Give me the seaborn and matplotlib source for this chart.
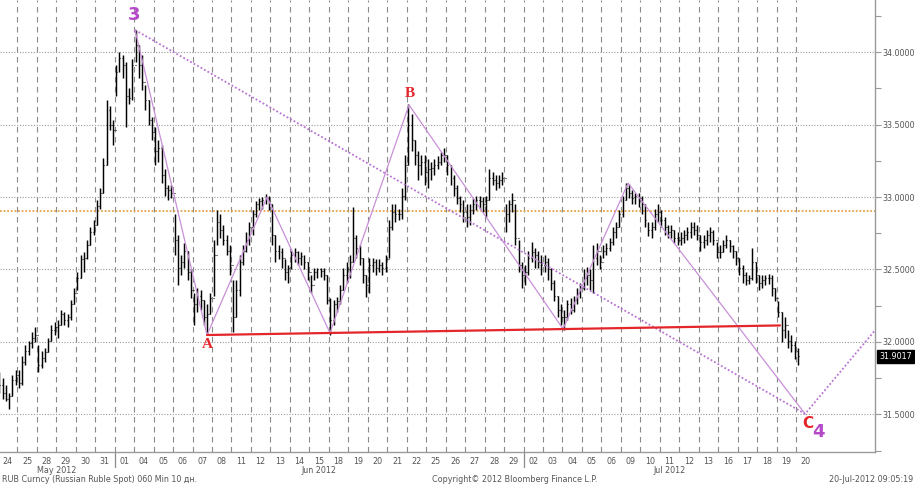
import numpy as np
import pandas as pd
import matplotlib
matplotlib.use("Agg")
import matplotlib.pyplot as plt
import matplotlib.transforms as mtransforms
import seaborn as sns

# ---------------- data ----------------
day_labels = ["24", "25", "28", "29", "30", "31",
              "01", "04", "05", "06", "07", "08", "11", "12", "13", "14", "15",
              "18", "19", "20", "21", "22", "25", "26", "27", "28", "29",
              "02", "03", "04", "05", "06", "09", "10", "11", "12", "13",
              "16", "17", "18", "19", "20"]
month_labels = ["May 2012", "Jun 2012", "Jul 2012"]
month_first_day = [0, 6, 27]
month_last_day = [6, 27, 42]
bars_per_day = 6

highs = [
    31.79, 31.75, 31.70, 31.65, 31.77, 31.81,
    31.81, 31.90, 31.98, 32.01, 32.07, 32.10,
    31.98, 31.94, 31.96, 32.03, 32.12, 32.14,
    32.15, 32.22, 32.21, 32.19, 32.29, 32.37,
    32.48, 32.60, 32.62, 32.70, 32.79, 32.84,
    32.98, 33.06, 33.27, 33.67, 33.63, 33.53,
    33.91, 34.00, 33.98, 33.93, 33.75, 33.95,
    34.15, 34.05, 33.98, 33.77, 33.67, 33.55,
    33.48, 33.39, 33.36, 33.19, 33.08, 33.08,
    32.88, 32.74, 32.60, 32.68, 32.63, 32.50,
    32.34, 32.37, 32.36, 32.29, 32.26, 32.34,
    32.70, 32.91, 32.88, 32.81, 32.74, 32.67,
    32.43, 32.43, 32.60, 32.67, 32.76, 32.83,
    32.91, 32.97, 32.99, 33.00, 33.02, 33.01,
    32.95, 32.74, 32.67, 32.65, 32.57, 32.53,
    32.63, 32.65, 32.63, 32.62, 32.60, 32.55,
    32.46, 32.51, 32.51, 32.51, 32.51, 32.46,
    32.30, 32.29, 32.31, 32.39, 32.51, 32.55,
    32.60, 32.93, 32.74, 32.67, 32.58, 32.46,
    32.58, 32.58, 32.57, 32.57, 32.55, 32.60,
    32.84, 32.95, 32.95, 32.92, 33.06, 33.29,
    33.64, 33.57, 33.39, 33.32, 33.29, 33.29,
    33.26, 33.24, 33.26, 33.28, 33.31, 33.34,
    33.29, 33.22, 33.15, 33.08, 33.01, 32.98,
    32.95, 32.95, 32.99, 33.01, 33.01, 33.00,
    33.01, 33.19, 33.17, 33.15, 33.15, 33.17,
    32.95, 32.98, 33.03, 32.95, 32.70, 32.55,
    32.53, 32.63, 32.69, 32.65, 32.63, 32.60,
    32.60, 32.58, 32.51, 32.43, 32.32, 32.26,
    32.22, 32.29, 32.30, 32.32, 32.37, 32.41,
    32.50, 32.52, 32.50, 32.67, 32.68, 32.60,
    32.67, 32.68, 32.72, 32.79, 32.83, 32.91,
    33.01, 33.10, 33.09, 33.05, 33.03, 33.03,
    33.01, 32.95, 32.83, 32.83, 32.92, 32.95,
    32.91, 32.86, 32.81, 32.81, 32.77, 32.76,
    32.76, 32.77, 32.79, 32.83, 32.83, 32.81,
    32.74, 32.74, 32.77, 32.79, 32.77, 32.69,
    32.67, 32.70, 32.74, 32.70, 32.67, 32.63,
    32.58, 32.53, 32.48, 32.46, 32.65, 32.55,
    32.46, 32.46, 32.46, 32.47, 32.46, 32.37,
    32.28, 32.21, 32.17, 32.08, 32.05, 32.01,
    31.96,
]
lows = [
    31.65, 31.61, 31.59, 31.54, 31.63, 31.70,
    31.68, 31.70, 31.84, 31.91, 31.96, 32.00,
    31.79, 31.82, 31.86, 31.93, 32.01, 32.05,
    32.03, 32.12, 32.12, 32.10, 32.15, 32.26,
    32.36, 32.44, 32.48, 32.57, 32.67, 32.74,
    32.81, 32.92, 33.03, 33.22, 33.46, 33.36,
    33.70, 33.86, 33.82, 33.48, 33.64, 33.67,
    33.93, 33.82, 33.74, 33.60, 33.50, 33.39,
    33.22, 33.24, 33.10, 33.01, 32.98, 32.99,
    32.60, 32.39, 32.46, 32.51, 32.43, 32.30,
    32.12, 32.21, 32.22, 32.12, 32.05, 32.19,
    32.32, 32.67, 32.72, 32.67, 32.60, 32.46,
    32.07, 32.17, 32.32, 32.53, 32.62, 32.67,
    32.74, 32.86, 32.91, 32.92, 32.95, 32.91,
    32.67, 32.55, 32.57, 32.51, 32.43, 32.41,
    32.50, 32.55, 32.53, 32.53, 32.50, 32.43,
    32.34, 32.43, 32.44, 32.45, 32.43, 32.26,
    32.05, 32.12, 32.21, 32.26, 32.36, 32.41,
    32.44, 32.55, 32.58, 32.53, 32.41, 32.31,
    32.34, 32.48, 32.46, 32.48, 32.46, 32.48,
    32.58, 32.77, 32.83, 32.84, 32.85, 32.98,
    33.22, 33.32, 33.22, 33.12, 33.15, 33.08,
    33.06, 33.12, 33.15, 33.19, 33.22, 33.24,
    33.15, 33.08, 33.01, 32.95, 32.90, 32.83,
    32.79, 32.81, 32.88, 32.91, 32.92, 32.90,
    32.86, 32.98, 33.08, 33.05, 33.06, 33.08,
    32.76, 32.83, 32.90, 32.67, 32.48, 32.37,
    32.39, 32.46, 32.55, 32.51, 32.51, 32.46,
    32.48, 32.43, 32.36, 32.28, 32.17, 32.12,
    32.08, 32.15, 32.19, 32.21, 32.26, 32.30,
    32.36, 32.39, 32.36, 32.34, 32.53, 32.50,
    32.58, 32.60, 32.63, 32.67, 32.72, 32.79,
    32.86, 32.98, 32.99, 32.95, 32.95, 32.93,
    32.88, 32.79, 32.73, 32.72, 32.77, 32.83,
    32.79, 32.74, 32.72, 32.72, 32.68, 32.67,
    32.67, 32.68, 32.70, 32.72, 32.74, 32.70,
    32.63, 32.65, 32.67, 32.69, 32.67, 32.58,
    32.58, 32.62, 32.65, 32.62, 32.58, 32.53,
    32.46, 32.41, 32.39, 32.40, 32.43, 32.41,
    32.36, 32.37, 32.39, 32.40, 32.32, 32.28,
    32.17, 32.00, 32.03, 31.96, 31.93, 31.88,
    31.84,
]
closes = [
    31.70, 31.65, 31.61, 31.63, 31.74, 31.77,
    31.72, 31.86, 31.94, 31.99, 32.03, 32.05,
    31.84, 31.89, 31.93, 32.01, 32.08, 32.10,
    32.12, 32.19, 32.15, 32.17, 32.26, 32.34,
    32.44, 32.57, 32.58, 32.67, 32.76, 32.81,
    32.94, 33.03, 33.22, 33.60, 33.50, 33.46,
    33.86, 33.96, 33.91, 33.70, 33.68, 33.91,
    34.05, 33.91, 33.79, 33.67, 33.53, 33.45,
    33.32, 33.34, 33.15, 33.06, 33.05, 33.03,
    32.70, 32.51, 32.55, 32.63, 32.48, 32.36,
    32.26, 32.32, 32.29, 32.17, 32.19, 32.30,
    32.60, 32.83, 32.77, 32.70, 32.63, 32.53,
    32.17, 32.36, 32.55, 32.63, 32.70, 32.79,
    32.88, 32.95, 32.97, 32.98, 32.99, 32.95,
    32.74, 32.63, 32.62, 32.58, 32.48, 32.51,
    32.60, 32.62, 32.58, 32.59, 32.55, 32.48,
    32.39, 32.48, 32.50, 32.49, 32.46, 32.29,
    32.15, 32.26, 32.28, 32.36, 32.46, 32.50,
    32.55, 32.72, 32.65, 32.58, 32.46, 32.39,
    32.53, 32.55, 32.51, 32.53, 32.51, 32.57,
    32.79, 32.90, 32.88, 32.88, 33.01, 33.22,
    33.50, 33.39, 33.29, 33.22, 33.24, 33.17,
    33.19, 33.20, 33.22, 33.24, 33.29, 33.29,
    33.22, 33.13, 33.06, 32.99, 32.95, 32.90,
    32.86, 32.91, 32.95, 32.98, 32.97, 32.95,
    32.98, 33.13, 33.12, 33.10, 33.12, 33.13,
    32.88, 32.95, 32.98, 32.72, 32.53, 32.46,
    32.48, 32.58, 32.62, 32.60, 32.55, 32.53,
    32.55, 32.50, 32.41, 32.32, 32.22, 32.17,
    32.17, 32.26, 32.22, 32.29, 32.34, 32.37,
    32.44, 32.46, 32.43, 32.58, 32.63, 32.55,
    32.63, 32.65, 32.69, 32.76, 32.79, 32.88,
    32.98, 33.06, 33.03, 32.99, 33.01, 32.99,
    32.95, 32.84, 32.77, 32.79, 32.88, 32.90,
    32.84, 32.79, 32.76, 32.77, 32.72, 32.70,
    32.72, 32.74, 32.76, 32.79, 32.77, 32.74,
    32.69, 32.70, 32.74, 32.76, 32.70, 32.62,
    32.62, 32.67, 32.70, 32.66, 32.63, 32.58,
    32.51, 32.46, 32.43, 32.44, 32.55, 32.46,
    32.41, 32.43, 32.44, 32.44, 32.37, 32.30,
    32.21, 32.08, 32.12, 32.01, 31.98, 31.94,
    31.90,
]
first_open = 31.72
last_price = 31.9017
last_price_text = "31.9017"

# Wave pivots (day position, price)
zigzag_days = [7.05, 10.745, 13.83, 17.06, 21.12, 29.03, 32.37, 41.46]
zigzag_prices = [34.152, 32.048, 33.000, 32.062, 33.635, 32.090, 33.096, 31.504]
dotted_days = [7.05, 41.46, 45.3]
dotted_prices = [34.152, 31.504, 32.12]
support_days = [10.745, 40.17]
support_prices = [32.048, 32.114]
orange_level = 32.904
wave_labels = ["3", "A", "B", "C", "4"]
wave_label_days = [7.0, 10.77, 21.15, 41.61, 42.13]
wave_label_prices = [34.255, 31.985, 33.711, 31.441, 31.378]

# ---------------- style ----------------
sns.set_theme(style="white")
plt.rcParams['font.family'] = ['DejaVu Sans']

W, H = 915, 488
fig = plt.figure(figsize=(W / 100, H / 100), dpi=100)
ax = fig.add_axes([0, 36 / H, 875 / W, 452 / H])
ax.set_xlim(0.113, 45.05)
ax.set_ylim(31.241, 34.359)
ax.set_facecolor("white")

txt = "#555555"
purple = "#b54ac9"
lilac = "#c890d8"
red = "#e4262a"

# spines
for s in ["top", "left"]:
    ax.spines[s].set_visible(False)
for s in ["right", "bottom"]:
    ax.spines[s].set_color("#9a9a9a")
    ax.spines[s].set_linewidth(1.0)

# grid
n_days = len(day_labels)
ax.vlines(np.arange(1, n_days), 31.241, 34.359, colors="#8a8a8a",
          linestyles=(0, (5, 4)), linewidth=0.8, zorder=1)
ax.hlines([31.5, 32.0, 32.5, 33.0, 33.5, 34.0], 0.113, 45.05, colors="#9a9a9a",
          linestyles=(0, (1, 1.5)), linewidth=0.8, zorder=1)
ax.hlines([orange_level], 0.113, 45.05, colors="#e6a24a",
          linestyles=(0, (1, 1)), linewidth=1.3, zorder=1)

# y axis on right
ax.yaxis.tick_right()
ax.set_yticks([31.5, 32.0, 32.5, 33.0, 33.5, 34.0])
ax.set_yticklabels([f"{v:.4f}" for v in [31.5, 32.0, 32.5, 33.0, 33.5, 34.0]])
ax.set_yticks([31.25, 31.75, 32.25, 32.75, 33.25, 33.75, 34.25], minor=True)
ax.tick_params(axis="y", which="both", direction="out", length=4, width=0.8,
               color="#9a9a9a", labelsize=5.8, labelcolor=txt, pad=1, right=True)
ax.set_xticks([])

# OHLC bars
n = len(closes)
df = pd.DataFrame({
    "t": np.arange(n) / bars_per_day + 0.5 / bars_per_day,
    "high": highs, "low": lows, "close": closes,
})
df["open"] = [first_open] + closes[:-1]
tk = 0.05
ax.vlines(df["t"], df["low"], df["high"], colors="black", linewidth=1.05, zorder=3)
ax.hlines(df["open"], df["t"] - tk, df["t"], colors="black", linewidth=0.8, zorder=3)
ax.hlines(df["close"], df["t"], df["t"] + tk, colors="black", linewidth=0.8, zorder=3)

# wave lines via seaborn
zz = pd.DataFrame({"day": zigzag_days, "price": zigzag_prices})
sns.lineplot(data=zz, x="day", y="price", sort=False, ax=ax, color=lilac,
             linewidth=0.9, zorder=4, estimator=None)
dd = pd.DataFrame({"day": dotted_days, "price": dotted_prices})
sns.lineplot(data=dd, x="day", y="price", sort=False, ax=ax, color="#b872d2",
             linewidth=1.3, linestyle=(0, (1, 1.2)), zorder=4, estimator=None)
sp = pd.DataFrame({"day": support_days, "price": support_prices})
sns.lineplot(data=sp, x="day", y="price", sort=False, ax=ax, color=red,
             linewidth=1.6, zorder=5, estimator=None)
ax.set_xlabel("")
ax.set_ylabel("")

# wave labels
styles = [
    dict(color=purple, fontsize=13, fontweight="bold", family=["DejaVu Sans"]),
    dict(color=red, fontsize=11, fontweight="bold", family=["Liberation Serif"]),
    dict(color=red, fontsize=11, fontweight="bold", family=["Liberation Serif"]),
    dict(color=red, fontsize=11, fontweight="bold", family=["DejaVu Sans"]),
    dict(color=purple, fontsize=13, fontweight="bold", family=["DejaVu Sans"]),
]
for lab, d, p, st in zip(wave_labels, wave_label_days, wave_label_prices, styles):
    ax.text(d, p, lab, ha="center", va="center", zorder=6, **st)

# last price tag
trans_yr = mtransforms.blended_transform_factory(ax.transAxes, ax.transData)
ax.text(1.0045, last_price, last_price_text, transform=trans_yr, ha="left", va="center",
        fontsize=5.8, color="white", clip_on=False, zorder=7,
        bbox=dict(boxstyle="square,pad=0.25", fc="black", ec="black"))

# day labels and months
xt = ax.get_xaxis_transform()
for i, lab in enumerate(day_labels):
    ax.text(i + 0.5, -9 / 452, lab, transform=xt, ha="center", va="center",
            fontsize=5.8, color=txt, clip_on=False)
for lab, a, b in zip(month_labels, month_first_day, month_last_day):
    ax.text((a + b) / 2, -18.5 / 452, lab, transform=xt, ha="center", va="center",
            fontsize=5.8, color=txt, clip_on=False)
for a in month_first_day[1:]:
    ax.plot([a, a], [0, -15 / 452], transform=xt, color="#8a8a8a", linewidth=0.9,
            clip_on=False)

# footer
fig.text(2 / W, 1 - 480 / H, "RUB Curncy (Russian Ruble Spot) 060 Min 10 дн.",
         ha="left", va="center", fontsize=5.8, color=txt)
fig.text(432 / W, 1 - 480 / H, "Copyright© 2012 Bloomberg Finance L.P.",
         ha="left", va="center", fontsize=5.8, color=txt)
fig.text(913 / W, 1 - 480 / H, "20-Jul-2012 09:05:19",
         ha="right", va="center", fontsize=5.8, color=txt)

fig.savefig("out.png", dpi=100)
